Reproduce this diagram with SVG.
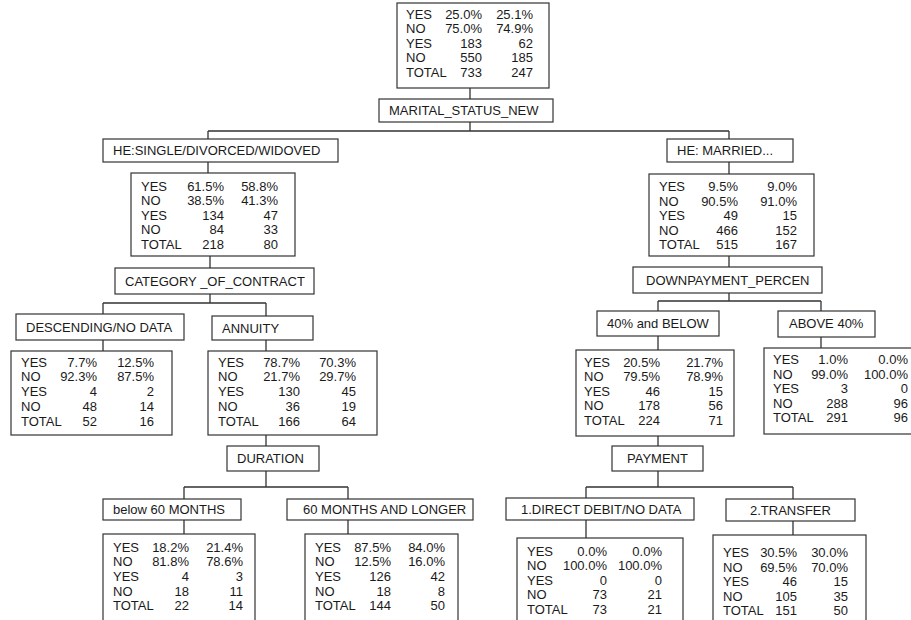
<svg xmlns="http://www.w3.org/2000/svg" width="911" height="620" viewBox="0 0 911 620">
<style>
.box{fill:#fff;stroke:#333;stroke-width:1.2}
.lbl{fill:#fff;stroke:#333;stroke-width:1.2}
text{font-family:"Liberation Sans",Arial,sans-serif;font-size:13px;fill:#1a1a1a}
.r{text-anchor:end}
.con{fill:none;stroke:#333;stroke-width:1.3}
</style>
<rect width="911" height="620" fill="#fff"/>
<g id="connectors">
<path class="con" d="M470 88V99M470 122V131M208 131H729M208 131V139M729 131V139"/>
<path class="con" d="M208 162V173M210 256V268M210 294V303M103 303H266M103 303V314M266 303V316M103 340V351M266 340V351"/>
<path class="con" d="M266 435V446M266 471V487M184 487H348M184 487V499M348 487V499M184 520V534M348 520V534"/>
<path class="con" d="M729 162V174M729 256V267M729 293V301M658 301H821M658 301V311M821 301V311M658 336V350M821 337V348"/>
<path class="con" d="M658 436V446M658 471V487M586 487H793M586 487V498M793 487V499M586 520V538M793 521V535"/>
</g>
<g id="root">
<rect class="box" x="397" y="3" width="152" height="85"/>
<text x="406" y="19">YES</text><text class="r" x="482" y="19">25.0%</text><text class="r" x="533" y="19">25.1%</text>
<text x="406" y="33.4">NO</text><text class="r" x="482" y="33.4">75.0%</text><text class="r" x="533" y="33.4">74.9%</text>
<text x="406" y="47.8">YES</text><text class="r" x="482" y="47.8">183</text><text class="r" x="533" y="47.8">62</text>
<text x="406" y="62.2">NO</text><text class="r" x="482" y="62.2">550</text><text class="r" x="533" y="62.2">185</text>
<text x="406" y="76.6">TOTAL</text><text class="r" x="482" y="76.6">733</text><text class="r" x="533" y="76.6">247</text>
</g>
<g id="marital"><rect class="lbl" x="379" y="99" width="174" height="23"/><text x="389" y="115">MARITAL_STATUS_NEW</text></g>
<g id="he-single"><rect class="lbl" x="103" y="139" width="235" height="23"/><text x="113" y="155">HE:SINGLE/DIVORCED/WIDOVED</text></g>
<g id="he-married"><rect class="lbl" x="667" y="139" width="126" height="23"/><text x="677" y="155">HE: MARRIED...</text></g>
<g id="single-data">
<rect class="box" x="131" y="173" width="164" height="83"/>
<text x="141" y="190.5">YES</text><text class="r" x="224" y="190.5">61.5%</text><text class="r" x="278" y="190.5">58.8%</text>
<text x="141" y="205">NO</text><text class="r" x="224" y="205">38.5%</text><text class="r" x="278" y="205">41.3%</text>
<text x="141" y="219.5">YES</text><text class="r" x="224" y="219.5">134</text><text class="r" x="278" y="219.5">47</text>
<text x="141" y="234">NO</text><text class="r" x="224" y="234">84</text><text class="r" x="278" y="234">33</text>
<text x="141" y="248.5">TOTAL</text><text class="r" x="224" y="248.5">218</text><text class="r" x="278" y="248.5">80</text>
</g>
<g id="married-data">
<rect class="box" x="649" y="174" width="165" height="82"/>
<text x="659" y="191">YES</text><text class="r" x="738" y="191">9.5%</text><text class="r" x="797" y="191">9.0%</text>
<text x="659" y="205.5">NO</text><text class="r" x="738" y="205.5">90.5%</text><text class="r" x="797" y="205.5">91.0%</text>
<text x="659" y="220">YES</text><text class="r" x="738" y="220">49</text><text class="r" x="797" y="220">15</text>
<text x="659" y="234.5">NO</text><text class="r" x="738" y="234.5">466</text><text class="r" x="797" y="234.5">152</text>
<text x="659" y="249">TOTAL</text><text class="r" x="738" y="249">515</text><text class="r" x="797" y="249">167</text>
</g>
<g id="category"><rect class="lbl" x="115" y="268" width="199" height="26"/><text x="125" y="285.5">CATEGORY _OF_CONTRACT</text></g>
<g id="downpayment"><rect class="lbl" x="633" y="267" width="189" height="26"/><text x="646" y="284.5">DOWNPAYMENT_PERCEN</text></g>
<g id="descending"><rect class="lbl" x="16" y="314" width="168" height="26"/><text x="26" y="331.5">DESCENDING/NO DATA</text></g>
<g id="annuity"><rect class="lbl" x="212" y="316" width="101" height="24"/><text x="222" y="332.5">ANNUITY</text></g>
<g id="below40"><rect class="lbl" x="597" y="311" width="122" height="25"/><text x="607" y="328">40% and BELOW</text></g>
<g id="above40"><rect class="lbl" x="778" y="311" width="97" height="26"/><text x="789" y="328">ABOVE 40%</text></g>
<g id="desc-data">
<rect class="box" x="11" y="351" width="161" height="84"/>
<text x="21" y="366.5">YES</text><text class="r" x="97" y="366.5">7.7%</text><text class="r" x="154" y="366.5">12.5%</text>
<text x="21" y="381.3">NO</text><text class="r" x="97" y="381.3">92.3%</text><text class="r" x="154" y="381.3">87.5%</text>
<text x="21" y="396.1">YES</text><text class="r" x="97" y="396.1">4</text><text class="r" x="154" y="396.1">2</text>
<text x="21" y="410.9">NO</text><text class="r" x="97" y="410.9">48</text><text class="r" x="154" y="410.9">14</text>
<text x="21" y="425.7">TOTAL</text><text class="r" x="97" y="425.7">52</text><text class="r" x="154" y="425.7">16</text>
</g>
<g id="annuity-data">
<rect class="box" x="208" y="351" width="169" height="84"/>
<text x="218" y="366.5">YES</text><text class="r" x="300" y="366.5">78.7%</text><text class="r" x="356" y="366.5">70.3%</text>
<text x="218" y="381.3">NO</text><text class="r" x="300" y="381.3">21.7%</text><text class="r" x="356" y="381.3">29.7%</text>
<text x="218" y="396.1">YES</text><text class="r" x="300" y="396.1">130</text><text class="r" x="356" y="396.1">45</text>
<text x="218" y="410.9">NO</text><text class="r" x="300" y="410.9">36</text><text class="r" x="356" y="410.9">19</text>
<text x="218" y="425.7">TOTAL</text><text class="r" x="300" y="425.7">166</text><text class="r" x="356" y="425.7">64</text>
</g>
<g id="below40-data">
<rect class="box" x="576" y="350" width="158" height="86"/>
<text x="584" y="366.5">YES</text><text class="r" x="660" y="366.5">20.5%</text><text class="r" x="723" y="366.5">21.7%</text>
<text x="584" y="381">NO</text><text class="r" x="660" y="381">79.5%</text><text class="r" x="723" y="381">78.9%</text>
<text x="584" y="395.5">YES</text><text class="r" x="660" y="395.5">46</text><text class="r" x="723" y="395.5">15</text>
<text x="584" y="410">NO</text><text class="r" x="660" y="410">178</text><text class="r" x="723" y="410">56</text>
<text x="584" y="424.5">TOTAL</text><text class="r" x="660" y="424.5">224</text><text class="r" x="723" y="424.5">71</text>
</g>
<g id="above40-data">
<rect class="box" x="764" y="348" width="160" height="86"/>
<text x="773" y="364">YES</text><text class="r" x="848" y="364">1.0%</text><text class="r" x="908" y="364">0.0%</text>
<text x="773" y="378.5">NO</text><text class="r" x="848" y="378.5">99.0%</text><text class="r" x="908" y="378.5">100.0%</text>
<text x="773" y="393">YES</text><text class="r" x="848" y="393">3</text><text class="r" x="908" y="393">0</text>
<text x="773" y="407.5">NO</text><text class="r" x="848" y="407.5">288</text><text class="r" x="908" y="407.5">96</text>
<text x="773" y="422">TOTAL</text><text class="r" x="848" y="422">291</text><text class="r" x="908" y="422">96</text>
</g>
<g id="duration"><rect class="lbl" x="227" y="446" width="92" height="25"/><text x="237" y="463">DURATION</text></g>
<g id="payment"><rect class="lbl" x="612" y="446" width="91" height="25"/><text x="627" y="463">PAYMENT</text></g>
<g id="below60"><rect class="lbl" x="103" y="499" width="138" height="21"/><text x="113" y="514">below 60 MONTHS</text></g>
<g id="over60"><rect class="lbl" x="287" y="499" width="186" height="21"/><text x="303" y="514">60 MONTHS AND LONGER</text></g>
<g id="direct"><rect class="lbl" x="506" y="498" width="188" height="22"/><text x="521" y="514">1.DIRECT DEBIT/NO DATA</text></g>
<g id="transfer"><rect class="lbl" x="726" y="499" width="129" height="22"/><text x="750" y="515">2.TRANSFER</text></g>
<g id="below60-data">
<rect class="box" x="103" y="534" width="152" height="100"/>
<text x="113" y="551.5">YES</text><text class="r" x="189" y="551.5">18.2%</text><text class="r" x="243" y="551.5">21.4%</text>
<text x="113" y="566.2">NO</text><text class="r" x="189" y="566.2">81.8%</text><text class="r" x="243" y="566.2">78.6%</text>
<text x="113" y="580.9">YES</text><text class="r" x="189" y="580.9">4</text><text class="r" x="243" y="580.9">3</text>
<text x="113" y="595.6">NO</text><text class="r" x="189" y="595.6">18</text><text class="r" x="243" y="595.6">11</text>
<text x="113" y="610.3">TOTAL</text><text class="r" x="189" y="610.3">22</text><text class="r" x="243" y="610.3">14</text>
</g>
<g id="over60-data">
<rect class="box" x="305" y="534" width="153" height="100"/>
<text x="315" y="551.5">YES</text><text class="r" x="391" y="551.5">87.5%</text><text class="r" x="445" y="551.5">84.0%</text>
<text x="315" y="566.2">NO</text><text class="r" x="391" y="566.2">12.5%</text><text class="r" x="445" y="566.2">16.0%</text>
<text x="315" y="580.9">YES</text><text class="r" x="391" y="580.9">126</text><text class="r" x="445" y="580.9">42</text>
<text x="315" y="595.6">NO</text><text class="r" x="391" y="595.6">18</text><text class="r" x="445" y="595.6">8</text>
<text x="315" y="610.3">TOTAL</text><text class="r" x="391" y="610.3">144</text><text class="r" x="445" y="610.3">50</text>
</g>
<g id="direct-data">
<rect class="box" x="517" y="538" width="166" height="100"/>
<text x="527" y="555.5">YES</text><text class="r" x="607" y="555.5">0.0%</text><text class="r" x="662" y="555.5">0.0%</text>
<text x="527" y="570">NO</text><text class="r" x="607" y="570">100.0%</text><text class="r" x="662" y="570">100.0%</text>
<text x="527" y="584.5">YES</text><text class="r" x="607" y="584.5">0</text><text class="r" x="662" y="584.5">0</text>
<text x="527" y="599">NO</text><text class="r" x="607" y="599">73</text><text class="r" x="662" y="599">21</text>
<text x="527" y="613.5">TOTAL</text><text class="r" x="607" y="613.5">73</text><text class="r" x="662" y="613.5">21</text>
</g>
<g id="transfer-data">
<rect class="box" x="713" y="535" width="153" height="100"/>
<text x="723" y="557">YES</text><text class="r" x="797" y="557">30.5%</text><text class="r" x="848" y="557">30.0%</text>
<text x="723" y="571.5">NO</text><text class="r" x="797" y="571.5">69.5%</text><text class="r" x="848" y="571.5">70.0%</text>
<text x="723" y="586">YES</text><text class="r" x="797" y="586">46</text><text class="r" x="848" y="586">15</text>
<text x="723" y="600.5">NO</text><text class="r" x="797" y="600.5">105</text><text class="r" x="848" y="600.5">35</text>
<text x="723" y="615">TOTAL</text><text class="r" x="797" y="615">151</text><text class="r" x="848" y="615">50</text>
</g>
</svg>
